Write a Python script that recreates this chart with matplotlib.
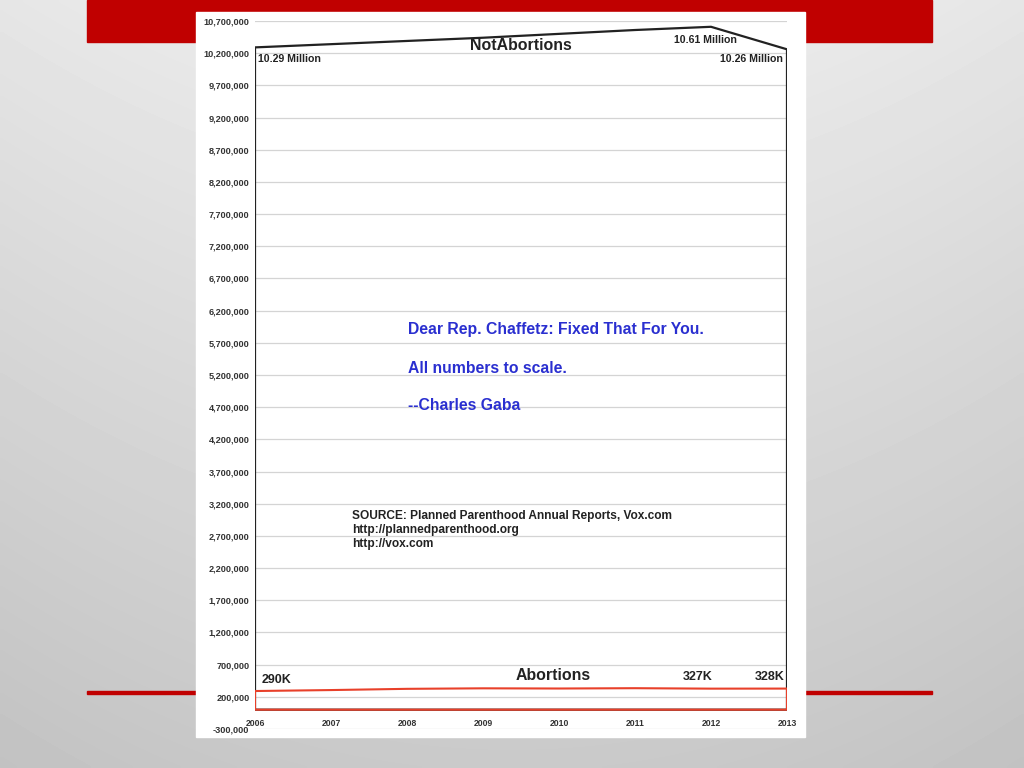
import matplotlib
matplotlib.use("Agg")
import matplotlib.pyplot as plt
import numpy as np
from matplotlib.patches import Rectangle

plt.rcParams['font.family'] = ['Liberation Sans', 'DejaVu Sans']

years = [2006, 2007, 2008, 2009, 2010, 2011, 2012, 2013]
not_abortions = [10290000, 10340000, 10390000, 10440000, 10500000, 10560000, 10610000, 10260000]
abortions = [290000, 305000, 324000, 332000, 329000, 334000, 327000, 328000]
yticks = list(range(-300000, 10700001, 500000))

W, H = 1024, 768


def fx(x):
    return x / W


def fy(y):
    return 1 - y / H


fig = plt.figure(figsize=(W / 100, H / 100), dpi=100)

# slide background (grey gradient)
bg = fig.add_axes([0, 0, 1, 1])
yy, xx = np.mgrid[0:1:200j, 0:1:200j]
shade = 0.93 - 0.14 * yy - 0.03 * (xx - 0.5) ** 2 * 4
bg.imshow(shade, cmap="gray", vmin=0, vmax=1, extent=[0, 1, 0, 1], aspect="auto",
          origin="upper", interpolation="bilinear")
bg.set_xlim(0, 1)
bg.set_ylim(0, 1)
bg.axis("off")

# red slide decorations
fig.patches.append(Rectangle((fx(87), fy(42)), fx(932 - 87), 42 / H, transform=fig.transFigure,
                             color="#c00000", zorder=1))
fig.patches.append(Rectangle((fx(87), fy(694)), fx(932 - 87), 3 / H, transform=fig.transFigure,
                             color="#c00000", zorder=1))
# white chart picture
fig.patches.append(Rectangle((fx(196), fy(737)), fx(805 - 196), (737 - 12) / H, transform=fig.transFigure,
                             color="white", zorder=2))

ax = fig.add_axes([fx(255), fy(729), fx(787 - 255), (729 - 21) / H])
ax.set_zorder(3)
ax.patch.set_alpha(0)
ax.set_xlim(2006, 2013)
ax.set_ylim(-300000, 10700000)
ax.set_yticks(yticks)
ax.set_yticklabels(["{:,}".format(v) for v in yticks], fontsize=6.6, fontweight="bold", color="#333333")
ax.set_xticks([])
ax.tick_params(axis="y", length=0, pad=4)
ax.grid(axis="y", color="#d4d4d4", lw=0.9)
ax.set_axisbelow(True)
for s in ax.spines.values():
    s.set_visible(False)

ax.fill_between(years, 0, not_abortions, facecolor="none", edgecolor="#222222", lw=1.6, zorder=2)
ax.fill_between(years, 0, abortions, facecolor="none", edgecolor="#e8402a", lw=1.5, zorder=3)

for yr in years:
    ax.text(yr, -215000, str(yr), ha="center", va="center", fontsize=6.2, fontweight="bold", color="#333333")

# annotations
def label(x, y, s, size, ha="left", color="#222222"):
    fig.text(fx(x), fy(y), s, ha=ha, va="center", fontsize=size, fontweight="bold", color=color, zorder=5)


label(521, 45, "NotAbortions", 11.4, ha="center")
label(258, 59, "10.29 Million", 7.6)
label(705, 40, "10.61 Million", 7.6, ha="center")
label(783, 59, "10.26 Million", 7.6, ha="right")
label(262, 680, "290K", 9)
label(553, 676, "Abortions", 11.4, ha="center")
label(698, 677, "327K", 9, ha="center")
label(770, 677, "328K", 9, ha="center")

blue = "#2a2fd0"
label(408, 329, "Dear Rep. Chaffetz: Fixed That For You.", 11.3, color=blue)
label(408, 368, "All numbers to scale.", 11.3, color=blue)
label(408, 406, "--Charles Gaba", 11.3, color=blue)

label(352, 516, "SOURCE: Planned Parenthood Annual Reports, Vox.com", 8.6)
label(352, 530, "http://plannedparenthood.org", 8.6)
label(352, 544, "http://vox.com", 8.6)

fig.savefig("out.png", dpi=100)
